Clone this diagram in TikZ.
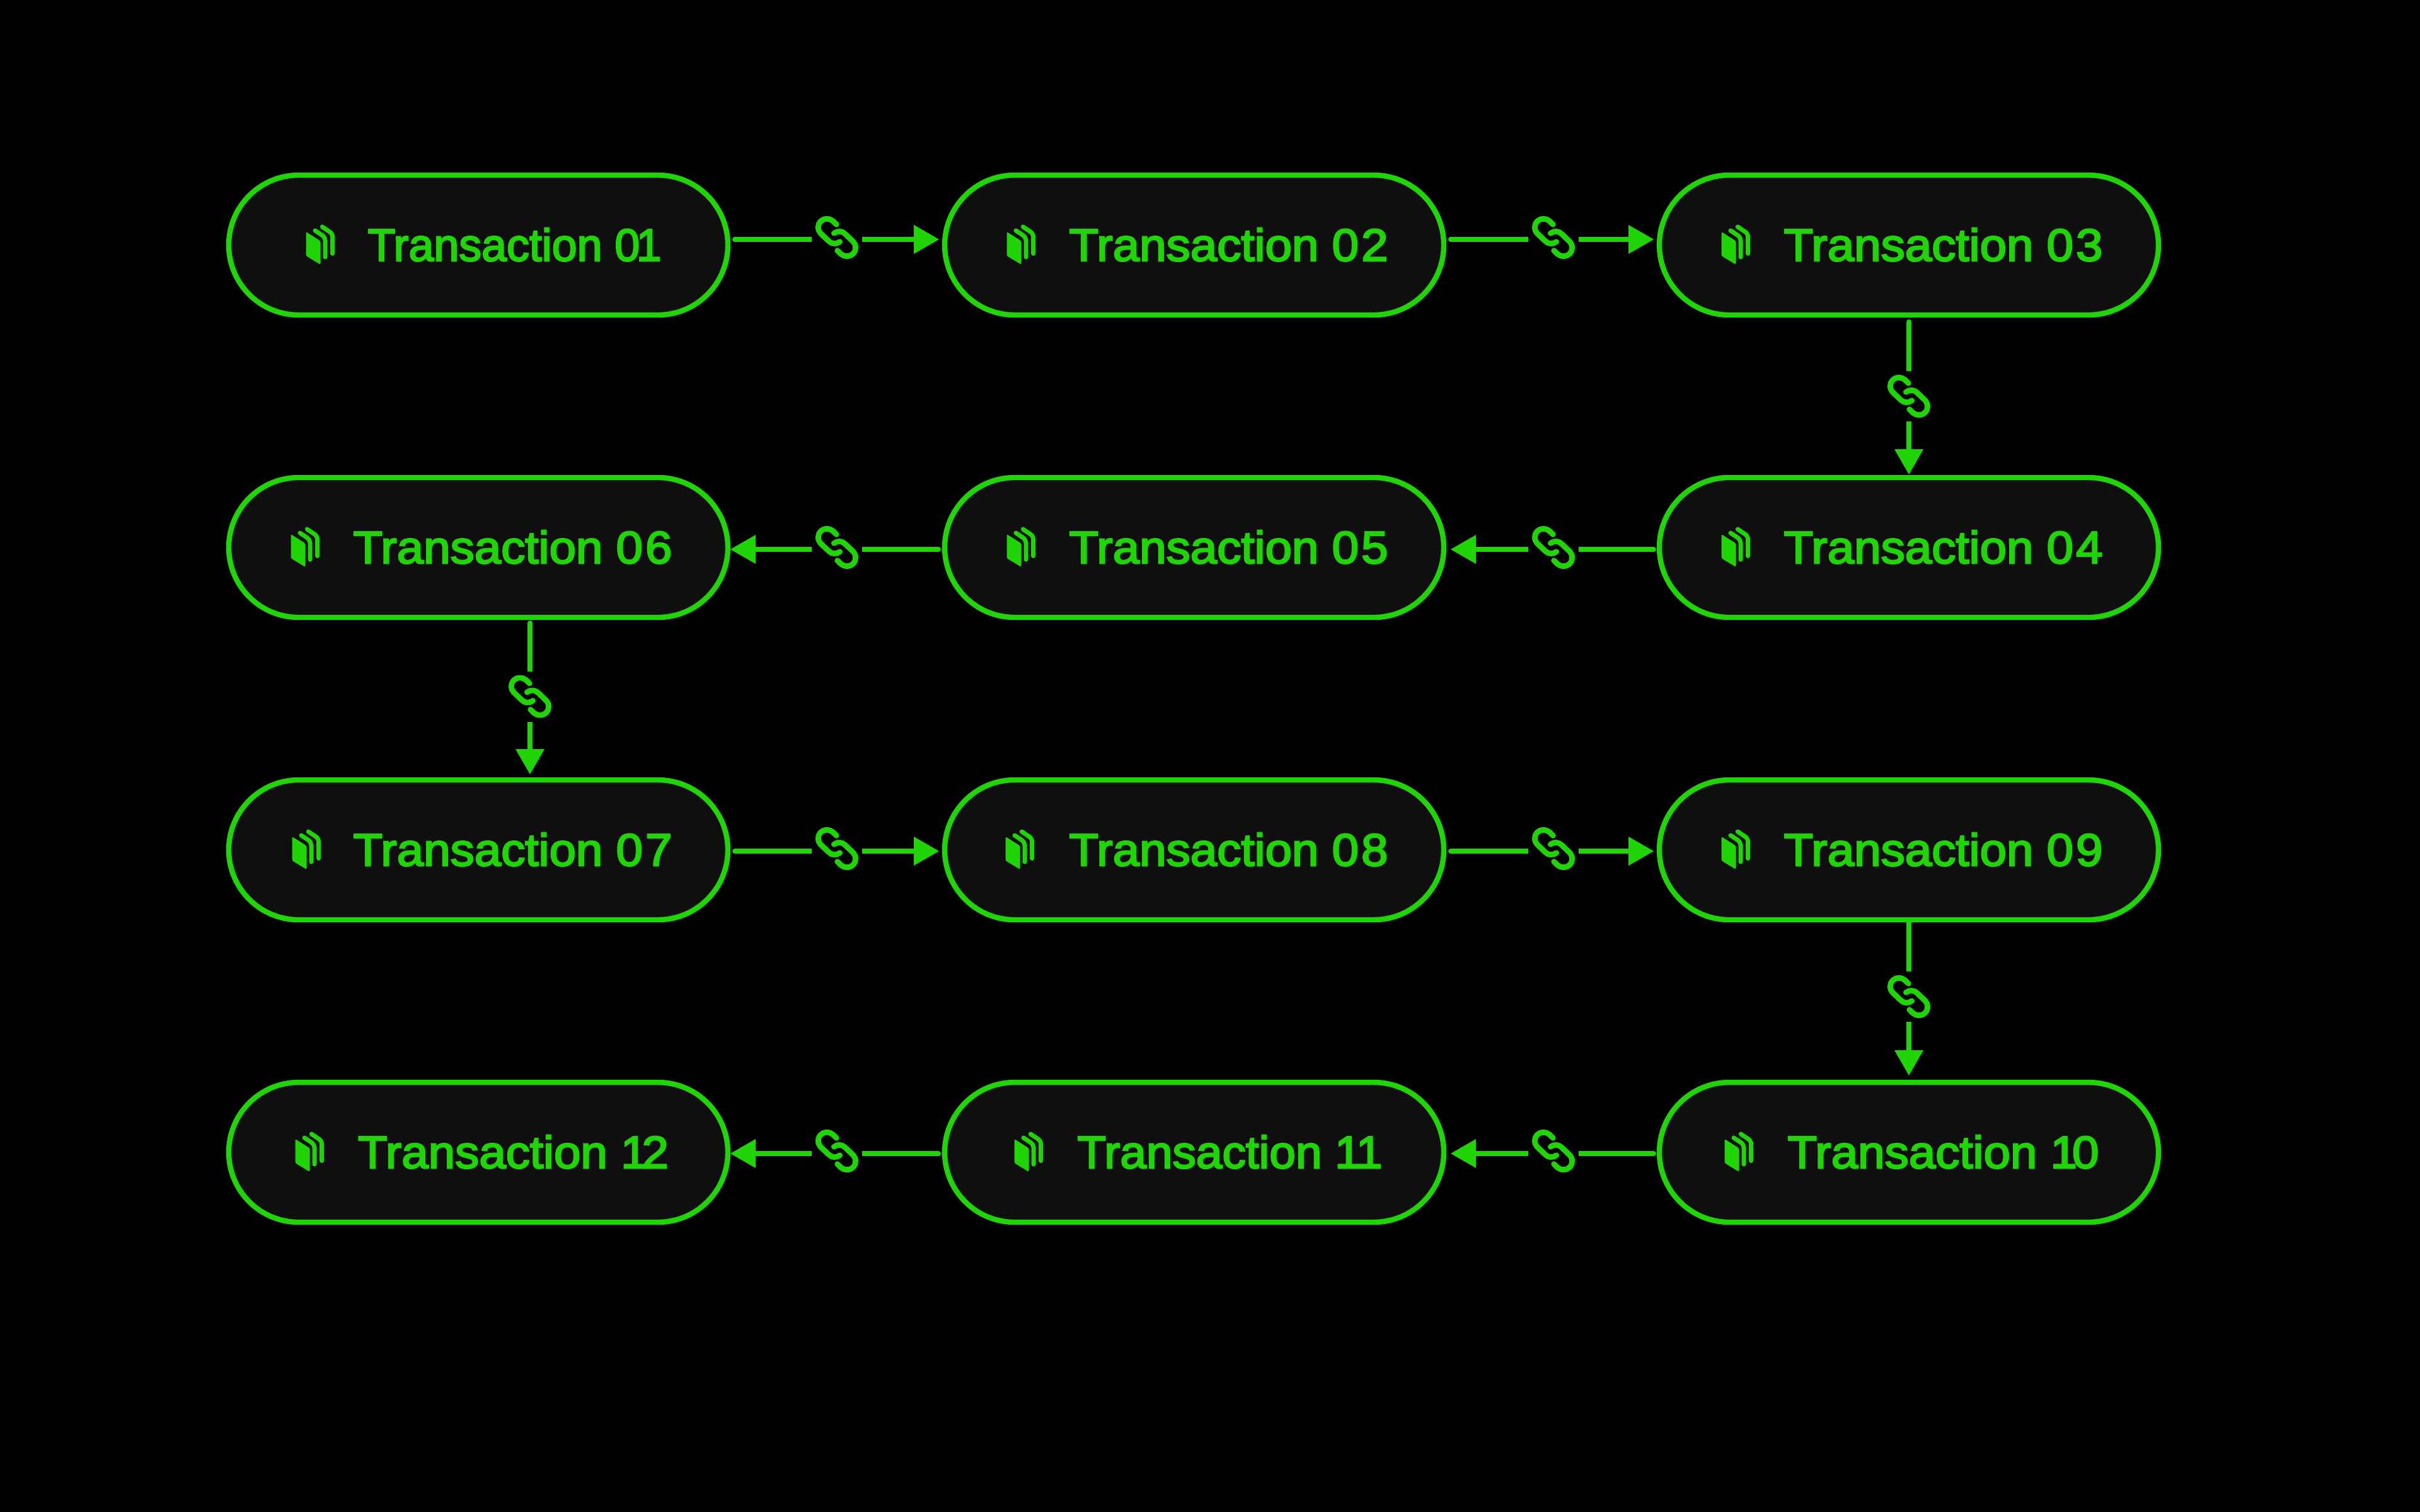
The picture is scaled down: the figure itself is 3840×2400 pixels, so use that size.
\documentclass[tikz,border=0pt]{standalone}
\usepackage{fontspec}
\usepackage{graphicx}
\usetikzlibrary{arrows.meta}
\setmainfont[FakeBold=3.5,FakeStretch=1.06]{Liberation Sans}
\definecolor{neon}{HTML}{20D408}
\definecolor{pillfill}{HTML}{0F0F0F}
\tikzset{
  x=1pt,y=-1pt,
  pill/.style={rectangle,draw=neon,fill=pillfill,line width=8.4pt,rounded corners=111pt,
    minimum width=792pt,minimum height=222pt,inner sep=0pt,outer sep=4pt,
    text=neon,font=\fontsize{72}{80}\selectfont},
  linkslot/.style={rectangle,minimum width=80pt,minimum height=80pt,inner sep=0pt,outer sep=0pt},
  wire/.style={draw=neon,line width=8pt},
  headed/.style={-{Triangle[length=40pt,width=46pt,line width=0pt]}},
  capped/.style={{Round Cap[]}-},
  chain/.pic={
    \draw[draw=neon,line width=8.8pt,line cap=round,line join=round]
      (-0.7,-20.7) -- (-6.5,-26.3) .. controls (-9,-28.6) and (-12.5,-29.6) .. (-16.3,-29.6)
      .. controls (-23.7,-29.6) and (-29.6,-23.9) .. (-29.6,-16.7)
      .. controls (-29.6,-12.7) and (-28.6,-9.2) .. (-26,-6.7) -- (-13,5.7)
      .. controls (-10.5,8.1) and (-7.5,9.6) .. (-4.7,9.6)
      .. controls (-1,9.6) and (2,9) .. (4.7,6.7);
    \draw[draw=neon,line width=8.8pt,line cap=round,line join=round]
      (0.7,20.7) -- (6.5,26.3) .. controls (9,28.6) and (12.5,29.6) .. (16.3,29.6)
      .. controls (23.7,29.6) and (29.6,23.9) .. (29.6,16.7)
      .. controls (29.6,12.7) and (28.6,9.2) .. (26,6.7) -- (13,-5.7)
      .. controls (10.5,-8.1) and (7.5,-9.6) .. (4.7,-9.6)
      .. controls (1,-9.6) and (-2,-9) .. (-4.7,-6.7);
  },
  bookicon/.pic={
    \fill[neon,rounded corners=2.5pt] (-0.5,-21) -- (22.5,-6.5) -- (22.5,31) -- (-0.5,17) -- cycle;
    \draw[draw=neon,line width=7pt,line cap=round,line join=round,rounded corners=5pt]
      (14,-23) -- (30,-12.5) -- (30,19);
    \draw[draw=neon,line width=7pt,line cap=round,line join=round,rounded corners=5pt]
      (25.3,-29) -- (41.6,-18) -- (41.6,13.5);
  }
}
\newcommand{\lab}[2][109pt]{\hspace*{#1}\raisebox{-25pt}[0pt][0pt]{#2}}
\begin{document}
\begin{tikzpicture}
\useasboundingbox (0,0) rectangle (3840,2400);
\fill[black] (0,0) rectangle (3840,2400);
% nodes
\node[pill] (t01) at (759,389) {\lab[115pt]{\scalebox{0.94}[1]{Transaction 0\kern-6pt 1}}};
\node[pill] (t02) at (1895,389) {\lab{Transaction 0\kern4pt 2}};
\node[pill] (t03) at (3029,389) {\lab{Transaction 0\kern4pt 3}};
\node[pill] (t04) at (3029,869) {\lab{Transaction 0\kern4pt 4}};
\node[pill] (t05) at (1895,869) {\lab{Transaction 0\kern4pt 5}};
\node[pill] (t06) at (759,869) {\lab{Transaction 0\kern4pt 6}};
\node[pill] (t07) at (759,1349) {\lab{Transaction 0\kern4pt 7}};
\node[pill] (t08) at (1895,1349) {\lab{Transaction 0\kern4pt 8}};
\node[pill] (t09) at (3029,1349) {\lab{Transaction 0\kern4pt 9}};
\node[pill] (t10) at (3029,1829) {\lab[109pt]{Transaction 1\kern-8pt 0}};
\node[pill] (t11) at (1895,1829) {\lab[113pt]{\scalebox{0.98}[1]{Transaction 1\kern-8pt 1}}};
\node[pill] (t12) at (759,1829) {\lab[111pt]{Transaction 1\kern-9pt 2}};
% icons
\foreach \ix/\iy in {486/389,1598/389,2732/389,2732/869,1598/869,462/869,464/1349,1596/1349,2732/1349,2737/1829,1610/1829,469/1829}
  \pic at (\ix,\iy) {bookicon};
% link slots
\node[linkslot] (l12) at (1328,380) {};
\node[linkslot] (l23) at (2465,380) {};
\node[linkslot] (l34) at (3029,629) {};
\node[linkslot] (l45) at (2465,872) {};
\node[linkslot] (l56) at (1328,872) {};
\node[linkslot] (l67) at (841,1106) {};
\node[linkslot] (l78) at (1328,1351) {};
\node[linkslot] (l89) at (2465,1351) {};
\node[linkslot] (l910) at (3029,1582) {};
\node[linkslot] (l1011) at (2465,1831) {};
\node[linkslot] (l1112) at (1328,1831) {};
% link icons
\foreach \ix/\iy in {1328/377,2465/377,3029/629,2465/869,1328/869,841/1105.5,1328/1347,2465/1347,3029/1582,2465/1827,1328/1827}
  \pic at (\ix,\iy) {chain};
% row 1
\draw[wire,capped,shorten <=3pt] (t01.east |- l12.west) -- (l12.west);
\draw[wire,headed,shorten >=5pt] (l12.east) -- (t02.west |- l12.east);
\draw[wire,capped,shorten <=3pt] (t02.east |- l23.west) -- (l23.west);
\draw[wire,headed,shorten >=5pt] (l23.east) -- (t03.west |- l23.east);
% 03 to 04
\draw[wire,capped,shorten <=3pt] (t03.south -| l34.north) -- (l34.north);
\draw[wire,headed,shorten >=1pt] (l34.south) -- (t04.north -| l34.south);
% row 2
\draw[wire,capped,shorten <=1pt] (t04.west |- l45.east) -- (l45.east);
\draw[wire,headed,shorten >=7pt] (l45.west) -- (t05.east |- l45.west);
\draw[wire,capped,shorten <=2pt] (t05.west |- l56.east) -- (l56.east);
\draw[wire,headed] (l56.west) -- (t06.east |- l56.west);
% 06 to 07
\draw[wire,capped,shorten <=1pt] (t06.south -| l67.north) -- (l67.north);
\draw[wire,headed,shorten >=5pt] (l67.south) -- (t07.north -| l67.south);
% row 3
\draw[wire,capped,shorten <=3pt] (t07.east |- l78.west) -- (l78.west);
\draw[wire,headed,shorten >=5pt] (l78.east) -- (t08.west |- l78.east);
\draw[wire,capped,shorten <=3pt] (t08.east |- l89.west) -- (l89.west);
\draw[wire,headed,shorten >=5pt] (l89.east) -- (t09.west |- l89.east);
% 09 to 10
\draw[wire] (t09.south -| l910.north) -- (l910.north);
\draw[wire,headed,shorten >=7pt] (l910.south) -- (t10.north -| l910.south);
% row 4
\draw[wire,capped,shorten <=1pt] (t10.west |- l1011.east) -- (l1011.east);
\draw[wire,headed,shorten >=7pt] (l1011.west) -- (t11.east |- l1011.west);
\draw[wire,capped,shorten <=2pt] (t11.west |- l1112.east) -- (l1112.east);
\draw[wire,headed] (l1112.west) -- (t12.east |- l1112.west);
\end{tikzpicture}
\end{document}
